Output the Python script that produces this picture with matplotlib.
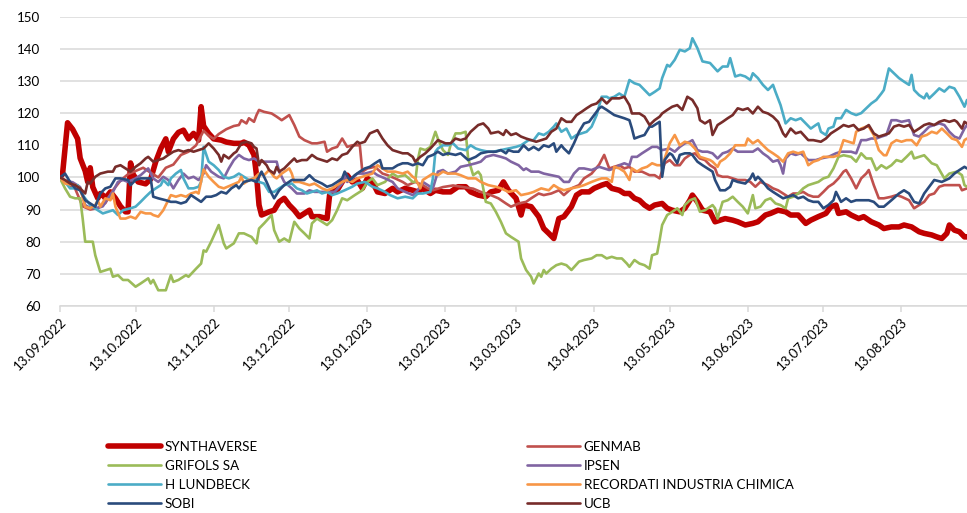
"""
Индексированная динамика котировок (13.09.2022 = 100): SYNTHAVERSE и аналоги.
Ряды сняты с картинки как опорные точки: (день от начала, значение).
"""

import pandas as pd
import matplotlib.pyplot as plt
import matplotlib.dates as mdates
from matplotlib.lines import Line2D


START = pd.Timestamp("2022-09-13")
END_DAY = 360  # последняя дата ряда в днях от START

# (день от начала, индекс)
SYNTH = [(0, 100), (1, 101), (3, 117), (5, 115), (7, 112), (8, 106), (9, 104), (10, 102),
         (11, 98.6), (12, 103), (13, 97), (15, 93.5), (16, 95), (17, 94.5), (18, 93.5),
         (20, 95.5), (22, 93.5), (24, 91), (26, 89.3), (27, 89.3), (28, 104.5), (29, 101),
         (31, 98.6), (34, 98), (36, 99.5), (38, 104.9), (40, 109), (42, 112), (43, 108),
         (45, 112),
         (47, 114), (49, 114.7), (51, 112), (53, 113.7), (55, 111.6), (56, 122), (57, 116),
         (59, 113.7), (61, 112), (64, 111.6), (66, 111), (69, 110.6), (72, 110.6), (73, 111),
         (75, 110), (77, 107), (78, 100.7), (79, 91.4), (80, 88.3), (83, 89.3), (85, 89.8),
         (87, 92.4), (89, 93.5), (91, 91.4), (93, 89.8), (95, 87.8), (97, 88.8), (99, 89.8),
         (100, 87.8), (103, 87.8), (106, 87.2), (107, 94.5), (108, 95.5), (110, 96),
         (112, 98.6), (114, 100.7), (116, 98.6), (118, 99.2), (120, 96.6), (122, 99.7),
         (124, 98.6), (126, 95.5), (129, 95), (132, 96.6), (134, 95.5), (137, 96.6), (140, 96),
         (142, 95.5), (144, 96.6), (147, 95), (149, 96), (152, 95.5), (155, 95.5), (158, 97.1),
         (161, 97.1), (163, 95.5), (166, 94.5), (169, 94), (171, 95.5), (174, 96), (176, 98.6),
         (178, 96), (181, 93.5), (183, 88.3), (184, 91.4), (187, 90.9), (190, 87.8),
         (192, 84.1), (194, 82.6), (196, 81), (198, 87.2), (200, 87.8), (203, 90.9),
         (205, 94.5), (207, 95.5), (210, 95.5), (212, 96.6), (215, 97.6), (217, 98.1),
         (219, 96.6), (222, 96), (224, 95), (226, 95), (228, 93.5), (230, 92.9), (232, 91.4),
         (234, 90.4), (236, 91.4), (239, 91.9), (241, 90.4), (243, 89.8), (246, 89.3),
         (248, 90.4), (250, 92.9), (251, 94.5), (253, 92.4), (255, 89.8), (258, 89.3),
         (260, 86.2), (262, 86.7), (264, 87.2), (267, 86.7), (269, 86.2), (272, 85.2),
         (275, 85.7), (277, 86.2), (280, 88.3), (282, 88.8), (285, 89.8), (288, 89.3),
         (290, 88.3), (293, 88.3), (296, 85.7), (298, 86.7), (301, 87.8), (304, 88.8),
         (306, 90.9), (308, 91.4), (309, 88.8), (312, 89.3), (314, 88.3), (317, 87.2),
         (319, 87.8), (322, 86.2), (325, 85.2), (327, 84.1), (330, 84.6), (333, 84.6),
         (335, 85.2), (338, 84.6), (341, 83.1), (343, 82.6), (346, 82.1), (348, 81.5),
         (350, 81), (352, 82.6), (353, 85.2), (355, 83.6), (357, 83.1), (359, 81.5), (360, 81.5)]

GENMAB = [(0, 100), (3, 98), (6, 96.5), (9, 91), (12, 90), (15, 90.5), (18, 92), (21, 96),
          (24, 99), (27, 101), (30, 102), (33, 103), (36, 101.5), (39, 100), (42, 103),
          (45, 104), (48, 107), (51, 108), (54, 110), (57, 114.5), (59, 113), (61, 112),
          (63, 113.5), (66, 115), (69, 116), (71, 116.3), (72, 117.8), (74, 116.8), (75, 118.4),
          (77, 117.3), (78, 119.4), (79, 121), (81, 120.4), (84, 119.9), (86, 118.9),
          (88, 117.8), (91, 119.4), (93, 116.3), (95, 112.7), (97, 111.6), (100, 110.6),
          (102, 110.6), (105, 111.1), (106, 108), (108, 109), (110, 109.5), (112, 112.1),
          (114, 109.5), (116, 110), (119, 110), (120, 101.8), (122, 102.8), (125, 103.3),
          (128, 101.2), (130, 100.7), (133, 99.7), (136, 98.6), (138, 97.6), (141, 98.6),
          (144, 97.6), (146, 96.6), (148, 96), (152, 97), (156, 97.5), (160, 97), (164, 96.5),
          (167, 95.5), (171, 94.5), (174, 93.5), (177, 91.9), (179, 90.9), (182, 91.9),
          (185, 92.4), (187, 93.5), (190, 95), (192, 94.5), (195, 95), (198, 96), (200, 94.5),
          (203, 96.6), (206, 97.6), (208, 99.7), (211, 101.2), (214, 104), (216, 107),
          (218, 102.8), (220, 103.3), (222, 103.8), (224, 102.8), (226, 103.3), (228, 101.8),
          (231, 101.8), (234, 100.7), (236, 100.7), (238, 99.7), (240, 104.4), (242, 105.4),
          (244, 103.8), (246, 103.8), (248, 105.9), (250, 107), (252, 107.5), (254, 105.9),
          (256, 105.4), (258, 103.8), (260, 102.8), (261, 100.7), (263, 100.2), (265, 100.2),
          (267, 99.7), (269, 99.2), (272, 99.2), (274, 98.6), (276, 97.1), (278, 98.6),
          (281, 97.6), (283, 96.6), (285, 96), (287, 95), (289, 94), (291, 95), (293, 95),
          (295, 95.5), (297, 94.5), (299, 94), (301, 94), (303, 95.5), (305, 97.1), (307, 98.1),
          (309, 99.7), (311, 101.8), (312, 102.3), (314, 99.7), (316, 96.6), (318, 99.7),
          (320, 101.2), (321, 102.3), (323, 97.6), (325, 93.5), (327, 93.5), (330, 94),
          (332, 94.5), (334, 94), (337, 92.9), (339, 90.4), (341, 91.4), (343, 92.4),
          (345, 94.5), (347, 95), (349, 97.1), (351, 97.6), (354, 97.6), (357, 97.6), (358, 96),
          (360, 96.6)]

GRIFOLS = [(0, 99.7), (2, 96.6), (4, 94), (6, 93.5), (8, 93.5), (9, 87.2), (10, 80), (13, 80),
           (14, 75.8), (16, 70.6), (18, 71.1), (20, 71.6), (21, 69.1), (23, 69.6), (25, 68.1),
           (27, 68.1), (30, 66), (32, 67), (35, 68.6), (36, 67), (37, 68.1), (39, 64.9),
           (42, 64.9), (44, 69.6), (45, 67.5), (47, 68.1), (50, 69.6), (51, 69.1), (54, 71.6),
           (56, 73.2), (57, 77.3), (58, 76.9), (60, 80), (63, 85.2), (65, 79.5), (66, 77.9),
           (69, 79.5), (71, 82.6), (73, 82.6), (76, 81.5), (78, 79.5), (79, 84.1), (81, 85.7),
           (84, 88.3), (85, 83.6), (87, 80), (89, 81), (91, 80), (93, 86.2), (95, 84.1),
           (97, 82.6), (99, 81), (100, 85.7), (102, 87.2), (104, 86.2), (106, 85.2), (108, 86.7),
           (110, 89.8), (112, 93.5), (114, 92.9), (117, 94.5), (120, 96), (122, 98.6),
           (124, 99.7), (126, 97.6), (129, 98.6), (132, 101.2), (134, 100.2), (137, 100.7),
           (140, 98.6), (141, 98.6), (142, 105.4), (143, 109), (145, 108.5), (147, 109.5),
           (149, 114.2), (150, 112), (152, 108.5), (154, 107), (155, 110), (157, 113.7),
           (159, 113.7), (161, 114.2), (162, 105.9), (164, 100.7), (166, 101.8), (167, 100.7),
           (169, 92.4), (171, 91.9), (173, 89.3), (175, 86.2), (177, 82.6), (179, 81.5),
           (182, 80), (183, 74.8), (185, 71.2), (187, 69.1), (188, 67), (190, 70.1), (191, 69.1),
           (192, 71.2), (193, 70.1), (195, 71.6), (197, 72.7), (199, 73.2), (201, 72.7),
           (203, 71.2), (206, 73.8), (208, 74.3), (211, 74.8), (213, 75.8), (215, 75.8),
           (217, 74.8), (219, 75.3), (221, 74.8), (223, 74.8), (225, 73.2), (226, 72.2),
           (228, 74.3), (230, 73.2), (232, 72.7), (234, 71.6), (235, 75.8), (237, 76.3),
           (238, 80.5), (239, 85.2), (241, 88.3), (243, 89.3), (245, 90.4), (247, 88.3),
           (248, 91.4), (250, 92.9), (252, 93.5), (254, 89.3), (256, 89.8), (259, 91.4),
           (260, 90.4), (261, 87.2), (263, 92.4), (265, 92.9), (267, 94), (269, 92.4),
           (271, 90.9), (273, 88.8), (275, 94.5), (276, 90.4), (278, 90.9), (280, 92.9),
           (282, 93.5), (284, 91.9), (286, 91.4), (288, 90.4), (289, 93.5), (291, 94), (293, 95),
           (295, 96.6), (297, 97.6), (299, 98.1), (301, 98.6), (303, 99.7), (305, 100.2),
           (307, 102.8), (309, 106.4), (311, 106.9), (314, 106.4), (316, 104.9), (318, 107.5),
           (320, 105.9), (322, 105.9), (324, 102.3), (326, 103.8), (328, 102.8), (330, 103.8),
           (332, 105.4), (334, 104.9), (336, 106.4), (338, 108), (339, 105.9), (341, 106.4),
           (343, 106.9), (346, 104.4), (348, 103.8), (351, 99.7), (353, 101.2), (356, 101.8),
           (358, 100.7), (359, 97.6), (360, 97.1)]

IPSEN = [(0, 100), (2, 99), (5, 98.5), (8, 97), (10, 91.4), (12, 90.5), (15, 90.5), (17, 91),
         (19, 93.5), (21, 95.5), (23, 98.6), (25, 99.2), (27, 98.6), (30, 99.7), (32, 100.7),
         (35, 102.8), (37, 99.7), (39, 98.6), (41, 100.2), (43, 99.2), (45, 96.6), (47, 99.2),
         (49, 101.2), (51, 99.7), (53, 100.2), (55, 99.2), (57, 101.2), (58, 103.8), (60, 101.8),
         (63, 100.2), (65, 99.7), (67, 102.8), (69, 105.4), (71, 107), (73, 105.9), (75, 105.4),
         (77, 105.9), (79, 104.9), (81, 104.9), (84, 104.9), (86, 104.9), (87, 101.8),
         (89, 98.6), (92, 96.6), (94, 95), (97, 95), (99, 96), (101, 95.5), (104, 95.5),
         (106, 95.5), (109, 95.5), (112, 98.1), (113, 100.7), (114, 98.6), (116, 99.7),
         (118, 101.2), (121, 101.2), (124, 101.8), (126, 100.7), (129, 99.7), (132, 98.6),
         (134, 96.6), (137, 95.5), (140, 94.5), (142, 96), (144, 98.6), (148, 96.6),
         (150, 101.8), (152, 102.3), (154, 101.2), (157, 101.8), (159, 103.3), (162, 103.8),
         (165, 104.4), (167, 104.9), (169, 106.4), (172, 107), (175, 106.4), (177, 105.9),
         (179, 104.9), (182, 103.8), (184, 102.3), (185, 102.8), (187, 101.8), (190, 101.8),
         (192, 101.2), (195, 100.7), (198, 100.2), (200, 98.6), (202, 98.6), (204, 101.2),
         (206, 102.8), (208, 102.8), (211, 102.3), (214, 103.3), (216, 102.8), (218, 102.3),
         (220, 102.8), (222, 103.8), (224, 104.4), (226, 103.8), (227, 106.4), (229, 106.4),
         (231, 107.5), (233, 108.5), (235, 109.5), (237, 109.5), (239, 108.5), (242, 109),
         (244, 108), (246, 109.5), (248, 110.6), (250, 111.1), (251, 111.6), (253, 108.5),
         (255, 108), (257, 108), (259, 107.5), (261, 105.9), (263, 107.5), (265, 108),
         (267, 109), (269, 108), (272, 108), (275, 108), (277, 109), (279, 107.5), (281, 106.4),
         (283, 104.9), (285, 105.4), (286, 103.8), (287, 101.2), (288, 105.9), (290, 107.5),
         (292, 107), (294, 107.5), (297, 105.4), (300, 105.4), (302, 105.9), (305, 106.4),
         (308, 107.5), (310, 108), (312, 108), (314, 108), (316, 107.5), (318, 111.6),
         (320, 111.6), (322, 112.1), (324, 112.1), (326, 112.7), (328, 113.2), (330, 117.8),
         (332, 117.8), (334, 117.3), (337, 117.8), (339, 113.2), (341, 112.7), (343, 114.2),
         (345, 115.8), (347, 116.3), (349, 116.8), (351, 116.3), (353, 114.2), (355, 112.7),
         (357, 112.1), (359, 115.2), (360, 116.3)]

LUNDBECK = [(0, 100), (2, 98.6), (4, 96.6), (6, 96.6), (7, 97.6), (9, 94.5), (12, 91.4),
            (15, 89.8), (17, 88.8), (19, 89.3), (21, 89.8), (23, 88.3), (25, 89.8), (28, 90.4),
            (30, 90.9), (32, 92.4), (34, 94), (36, 95.5), (38, 96.6), (40, 97.6), (41, 99.2),
            (43, 97.6), (44, 99.7), (46, 101.2), (48, 102.3), (49, 99.7), (51, 96.6), (53, 96.6),
            (55, 97.1), (56, 98.6), (57, 109.5), (59, 104.9), (61, 103.8), (63, 102.3),
            (65, 100.2), (67, 99.7), (69, 100.2), (71, 101.2), (73, 100.2), (75, 99.2),
            (77, 99.7), (79, 98.6), (81, 98.1), (83, 95.5), (85, 95.5), (87, 96.6), (89, 97.6),
            (92, 98.1), (94, 96.6), (96, 96), (98, 95), (100, 95.5), (102, 96), (104, 95),
            (106, 95.5), (108, 94.5), (110, 95), (113, 96), (116, 97.1), (118, 98.1),
            (121, 98.6), (124, 97.1), (126, 96.6), (129, 95.5), (131, 94.5), (134, 93.5),
            (137, 94), (140, 93.5), (142, 95), (144, 95), (147, 95.5), (148, 99.7), (149, 108),
            (150, 109), (152, 110), (154, 110), (156, 110.6), (158, 109), (161, 108.5),
            (163, 110), (165, 109), (167, 108.5), (170, 108), (172, 108), (175, 108.5),
            (178, 109), (181, 109.5), (183, 110), (186, 111.6), (188, 111.6), (190, 113.7),
            (192, 113.2), (194, 114.2), (196, 115.8), (197, 116.8), (199, 114.2), (201, 115.2),
            (203, 112.1), (205, 113.2), (207, 113.7), (209, 114.2), (211, 115.8), (213, 119.4),
            (215, 125.1), (217, 125.1), (218, 124.6), (220, 125.1), (222, 126.1), (224, 125.1),
            (226, 130.3), (228, 129.3), (230, 128.8), (232, 127.2), (234, 125.6), (236, 126.6),
            (238, 127.7), (239, 130.9), (241, 135), (242, 134.5), (244, 136.6), (246, 139.7),
            (248, 139.2), (250, 140.2), (251, 143.3), (253, 140.2), (255, 136.1), (258, 135.6),
            (261, 133), (263, 134.5), (265, 134.5), (266, 137.1), (268, 131.4), (270, 131.9),
            (272, 131.4), (274, 130.3), (275, 132.4), (277, 130.9), (279, 128.8), (281, 127.2),
            (283, 128.8), (284, 126.6), (286, 122.5), (288, 116.8), (290, 118.4), (292, 117.8),
            (294, 118.4), (296, 116.8), (298, 115.2), (300, 116.3), (301, 116.8), (302, 114.2),
            (304, 113.2), (305, 115.2), (307, 115.8), (308, 118.4), (310, 118.4), (312, 121),
            (314, 120), (316, 119.4), (318, 120), (320, 121.5), (322, 123), (324, 124.1),
            (326, 126.1), (327, 127.2), (329, 133.9), (331, 132.4), (333, 130.9), (335, 129.8),
            (337, 128.8), (338, 131.9), (339, 127.2), (341, 125.6), (343, 124.6), (344, 126.1),
            (345, 124.6), (347, 126.1), (349, 127.7), (351, 126.7), (353, 128.2), (355, 127.7),
            (357, 125.1), (359, 122), (360, 124.1)]

RECORDATI = [(0, 100), (2, 98.1), (6, 97.6), (8, 96.6), (10, 90.9), (12, 90.4), (14, 91.4),
             (15, 92.9), (16, 90.9), (18, 93.5), (20, 92.9), (21, 95), (22, 90.9), (24, 87.2),
             (26, 87.2), (28, 87.8), (30, 87.2), (32, 89.3), (34, 88.8), (36, 88.8), (37, 88.3),
             (39, 87.8), (41, 89.8), (42, 91.4), (44, 94.5), (46, 94), (48, 94.5), (50, 94),
             (52, 95), (54, 95.5), (55, 95), (57, 102.5), (59, 100.2), (61, 98.6), (63, 97.1),
             (65, 96.6), (68, 97.6), (71, 98.6), (72, 100.2), (73, 98.1), (75, 99.2), (77, 99.7),
             (79, 101.2), (81, 100.7), (83, 102.3), (85, 100.2), (86, 99.7), (88, 101.2),
             (91, 102.8), (92, 101.2), (93, 98.6), (95, 98.6), (97, 98.1), (99, 97.6),
             (101, 98.1), (104, 96.6), (106, 96), (108, 96.6), (110, 97.6), (112, 98.6),
             (114, 99.2), (116, 98.6), (118, 99.7), (120, 100.2), (122, 100.7), (124, 101.2),
             (126, 103.8), (128, 102.8), (130, 101.8), (133, 101.8), (136, 101.2), (138, 101.8),
             (140, 100.2), (141, 99.7), (143, 96.6), (144, 99.2), (146, 100.2), (148, 101.2),
             (150, 100.7), (152, 101.8), (154, 101.2), (157, 101.2), (159, 100.7), (162, 99.7),
             (165, 99.7), (167, 98.6), (170, 97.6), (173, 97.1), (175, 96.6), (178, 95.5),
             (181, 96), (183, 94.5), (186, 95), (188, 95.5), (191, 96.6), (194, 96), (196, 97.6),
             (198, 96.6), (200, 96), (203, 96.6), (206, 97.1), (208, 97.6), (211, 98.6),
             (213, 99.2), (215, 99.7), (217, 99.7), (219, 98.6), (220, 103.3), (222, 102.8),
             (224, 101.8), (226, 99.2), (227, 102.8), (229, 101.8), (231, 102.8), (233, 103.3),
             (235, 104.4), (237, 103.8), (239, 103.8), (240, 105.9), (242, 110.6), (244, 113.2),
             (246, 110), (248, 111.1), (250, 110.6), (252, 109), (254, 106.4), (256, 105.9),
             (258, 105.4), (259, 104.9), (261, 103.3), (262, 104.9), (264, 105.9), (266, 107.5),
             (268, 110), (270, 110), (272, 110), (273, 112.1), (275, 110.6), (277, 111.6),
             (279, 110), (281, 108.5), (283, 107.5), (285, 106.4), (287, 104.9), (289, 107.5),
             (291, 108), (293, 107.5), (295, 108), (297, 103.8), (299, 104.9), (301, 105.4),
             (303, 106.4), (305, 106.4), (307, 106.4), (309, 106.9), (311, 111.6), (313, 111.1),
             (315, 110.6), (316, 114.2), (318, 115.2), (320, 115.8), (321, 115.8), (323, 113.2),
             (325, 108.5), (327, 106.9), (328, 106.9), (330, 110.6), (332, 111.6), (334, 111.1),
             (336, 111.6), (338, 111.6), (340, 110), (342, 112.7), (344, 113.2), (346, 114.2),
             (348, 113.7), (350, 115.2), (352, 113.7), (354, 112.1), (356, 111.6), (358, 109.5),
             (359, 111.6), (360, 112.1)]

SOBI = [(0, 100), (2, 101.2), (4, 98.6), (6, 96.6), (8, 96), (10, 92.9), (12, 91.9), (14, 90.9),
        (16, 95), (18, 96.6), (20, 97.1), (22, 99.7), (24, 99.7), (27, 99.2), (28, 97.6),
        (30, 99.2), (32, 99.7), (34, 99.7), (36, 99.7), (37, 94), (39, 93.5), (42, 92.9),
        (44, 92.4), (46, 92.4), (48, 91.9), (50, 92.4), (52, 94.5), (55, 92.9), (56, 92.4),
        (58, 94), (60, 94), (62, 94.5), (64, 95.5), (66, 95), (68, 96.6), (70, 97.6), (71, 96.6),
        (73, 98.6), (76, 99.2), (78, 98.6), (80, 101.8), (82, 98.6), (84, 95), (85, 93.5),
        (87, 96), (89, 97.6), (92, 99.2), (94, 99.2), (97, 99.2), (99, 100.7), (101, 99.2),
        (104, 98.1), (106, 97.1), (108, 97.6), (110, 98.6), (112, 99.7), (113, 101.8),
        (115, 99.2), (117, 100.7), (119, 101.8), (121, 102.8), (123, 103.3), (125, 104.4),
        (127, 105.4), (128, 102.8), (130, 102.8), (132, 102.8), (134, 103.8), (136, 104.4),
        (138, 104.4), (140, 103.8), (142, 104.4), (144, 103.8), (146, 106.4), (148, 107),
        (150, 108), (152, 107), (154, 107.5), (157, 107), (159, 107.5), (162, 105.4),
        (165, 106.4), (167, 107.5), (170, 108), (173, 108), (175, 108.5), (177, 107.5),
        (178, 108.5), (180, 108), (182, 108), (184, 110), (186, 108.5), (188, 109.5),
        (190, 108.5), (192, 110), (194, 109.5), (196, 110.6), (197, 108), (199, 110), (200, 109),
        (202, 107.5), (204, 110.6), (206, 114.2), (208, 116.8), (210, 117.3), (212, 119.4),
        (214, 121.5), (215, 122), (217, 121), (220, 119.4), (222, 118.9), (224, 118.4),
        (226, 117.8), (227, 115.2), (228, 112.1), (230, 112.7), (232, 113.2), (234, 115.8),
        (235, 115.8), (237, 116.8), (238, 117.3), (239, 100.2), (240, 105.4), (242, 107.5),
        (243, 107), (245, 104.4), (246, 107), (248, 107.5), (250, 107.5), (251, 107),
        (253, 104.9), (255, 103.8), (257, 102.8), (259, 101.8), (260, 99.2), (262, 96), (264, 96),
        (266, 97.1), (267, 99.2), (269, 98.6), (272, 98.1), (274, 99.7), (275, 101.2),
        (276, 99.2), (277, 100.2), (279, 98.6), (281, 96.6), (283, 95.5), (285, 94.5),
        (287, 93.5), (289, 94), (291, 94.5), (293, 93.5), (295, 94), (297, 92.9), (299, 92.4),
        (301, 92.4), (303, 90.4), (305, 91.4), (307, 92.9), (308, 95.5), (310, 92.4),
        (312, 93.5), (314, 92.4), (316, 92.9), (318, 92.9), (321, 92.9), (323, 92.4),
        (325, 90.9), (327, 90.9), (330, 92.9), (333, 95), (335, 96), (337, 95), (339, 92.4),
        (341, 91.9), (343, 95), (345, 97.1), (347, 99.2), (350, 98.6), (353, 99.7), (355, 101.2),
        (357, 102.3), (359, 103.3), (360, 102.8)]

UCB = [(0, 100), (2, 99.2), (4, 98.1), (6, 97.6), (8, 96.6), (10, 95), (11, 98.6), (12, 98.1),
       (14, 100.2), (16, 101.2), (19, 101.8), (21, 101.8), (22, 103.3), (24, 103.8), (26, 102.8),
       (28, 101.8), (30, 103.3), (32, 104.4), (34, 105.9), (35, 106.4), (37, 104.9), (39, 105.4),
       (41, 105.9), (43, 107), (45, 108), (47, 108.5), (49, 108), (51, 108.5), (53, 108),
       (55, 108.5), (57, 109), (59, 110.6), (61, 109), (63, 107), (64, 104.9), (65, 107),
       (67, 105.9), (69, 107.5), (70, 108), (72, 110.6), (74, 111.1), (76, 110.6), (77, 109.5),
       (78, 109), (79, 103.8), (80, 105.4), (82, 103.8), (83, 102.3), (85, 101.2), (86, 103.3),
       (87, 101.8), (89, 102.8), (91, 104.4), (93, 105.9), (94, 104.9), (96, 105.4), (98, 105.4),
       (100, 107), (102, 105.9), (104, 105.4), (106, 104.9), (108, 105.9), (110, 105.4),
       (112, 107), (114, 107.5), (116, 109.5), (118, 111.1), (119, 110.6), (121, 111.1),
       (123, 113.7), (126, 114.7), (128, 112.1), (130, 110), (132, 108.5), (134, 108),
       (136, 107.5), (138, 107.5), (140, 106.4), (141, 104.9), (143, 106.4), (145, 107.5),
       (147, 109), (150, 111.6), (153, 110.6), (155, 110.6), (157, 112.1), (159, 111.6),
       (161, 112.1), (163, 114.2), (166, 116.3), (168, 116.8), (170, 115.2), (171, 113.7),
       (174, 114.2), (176, 113.2), (177, 114.7), (179, 113.2), (181, 113.7), (183, 112.7),
       (185, 112.1), (187, 111.6), (189, 111.1), (191, 111.6), (193, 112.1), (195, 114.2),
       (197, 115.2), (199, 118.4), (201, 117.3), (203, 117.3), (205, 119.4), (207, 120.4),
       (209, 121.5), (211, 122.5), (213, 123), (215, 124.6), (217, 123), (219, 124.6),
       (222, 124.6), (224, 125.1), (226, 122.5), (227, 119.9), (230, 119.9), (232, 118.9),
       (234, 116.3), (236, 117.8), (238, 118.9), (239, 119.9), (241, 121), (243, 122),
       (245, 122.5), (247, 121), (249, 125.1), (251, 124.1), (253, 121.5), (254, 117.8),
       (256, 116.8), (258, 117.8), (259, 113.2), (261, 116.3), (263, 117.3), (265, 118.4),
       (267, 119.4), (269, 121.5), (271, 121), (273, 121.5), (275, 119.9), (277, 122),
       (279, 120.4), (281, 119.9), (283, 118.9), (285, 117.3), (287, 113.7), (288, 112.7),
       (290, 115.2), (292, 113.7), (294, 114.2), (297, 111.6), (299, 111.6), (302, 111.1),
       (304, 112.1), (306, 113.7), (309, 115.2), (311, 116.3), (313, 115.8), (315, 116.3),
       (317, 114.7), (319, 115.2), (321, 116.3), (323, 113.7), (325, 112.7), (327, 113.2),
       (329, 113.7), (331, 115.8), (333, 116.3), (335, 115.8), (337, 116.3), (339, 114.2),
       (341, 115.2), (343, 116.3), (345, 116.8), (347, 116.3), (349, 117.3), (351, 117.8),
       (353, 117.3), (355, 117.8), (356, 117.3), (358, 115.2), (359, 117.3), (360, 116.8)]

# порядок рядов как в Excel: первый рисуется снизу
SERIES = [
    ("SYNTHAVERSE", SYNTH, "#C00000", 4.0),
    ("GENMAB", GENMAB, "#C0504D", 1.9),
    ("GRIFOLS SA", GRIFOLS, "#9BBB59", 1.9),
    ("IPSEN", IPSEN, "#8064A2", 1.9),
    ("H LUNDBECK", LUNDBECK, "#4BACC6", 1.9),
    ("RECORDATI INDUSTRIA CHIMICA", RECORDATI, "#F79646", 1.9),
    ("SOBI", SOBI, "#2A4B7C", 1.9),
    ("UCB", UCB, "#772C2A", 1.9),
]

GRID = "#D9D9D9"
FONT_SIZE = 9.6


def to_dates(points):
    days = [d for d, _ in points]
    vals = [v for _, v in points]
    return START + pd.to_timedelta(days, unit="D"), vals


def main():
    plt.rcParams["font.family"] = ["Lato", "DejaVu Sans"]
    plt.rcParams["font.size"] = FONT_SIZE

    fig = plt.figure(figsize=(9.67, 5.13), dpi=100)
    ax = fig.add_axes([60 / 967, 1 - 306 / 513, 907 / 967, (306 - 16.7) / 513])

    handles = {}
    for name, pts, color, lw in SERIES:
        x, y = to_dates(pts)
        ax.plot(x, y, color=color, lw=lw, solid_joinstyle="round",
                solid_capstyle="round")
        handles[name] = Line2D([], [], color=color, lw=lw, solid_capstyle="round")

    ax.set_ylim(60, 150)
    ax.set_yticks(range(60, 151, 10))
    ax.set_xlim(START, START + pd.Timedelta(days=END_DAY))
    # подписи на 13-е число каждого месяца, с сентября 2022 по август 2023
    ticks = pd.date_range("2022-09-01", periods=12, freq="MS") + pd.Timedelta(days=12)
    ax.set_xticks(ticks)
    ax.xaxis.set_major_formatter(mdates.DateFormatter("%d.%m.%Y"))

    ax.grid(axis="y", color=GRID, lw=1.1)
    ax.set_axisbelow(True)
    for side in ("top", "right", "left"):
        ax.spines[side].set_visible(False)
    ax.spines["bottom"].set_color(GRID)
    ax.spines["bottom"].set_linewidth(1.1)

    ax.tick_params(axis="y", length=0, pad=14)
    ax.tick_params(axis="x", length=4, width=1.1, color=GRID, pad=3)
    for lbl in ax.get_xticklabels():
        lbl.set_rotation(45)
        lbl.set_ha("right")
        lbl.set_va("top")
        lbl.set_rotation_mode("anchor")

    # легенда: две колонки, порядок по строкам как в оригинале
    order = ["SYNTHAVERSE", "GRIFOLS SA", "H LUNDBECK", "SOBI",
             "GENMAB", "IPSEN", "RECORDATI INDUSTRIA CHIMICA", "UCB"]
    fig.legend([handles[n] for n in order], order, ncol=2, loc="upper left",
               bbox_to_anchor=(108 / 967, 1 - 441 / 513), frameon=False,
               handlelength=4.0, handletextpad=0.25, columnspacing=20.2,
               labelspacing=0.52, borderpad=0, borderaxespad=0, fontsize=FONT_SIZE)

    fig.savefig("out.png", dpi=100)


if __name__ == "__main__":
    main()
